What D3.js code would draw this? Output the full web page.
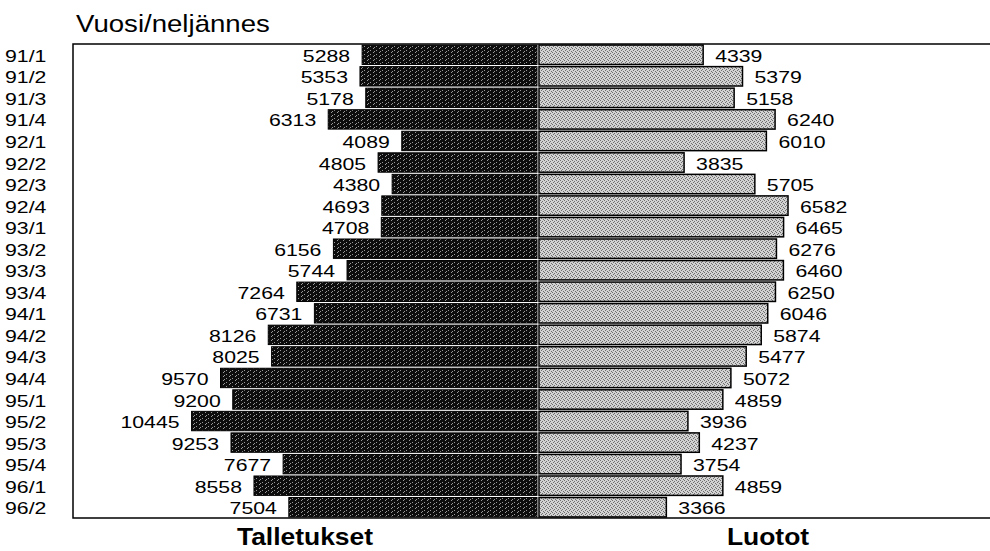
<!DOCTYPE html>
<html>
<head>
<meta charset="utf-8">
<script src="https://cdn.jsdelivr.net/npm/d3@7"></script>
<style>
  body { margin: 0; background: #fff; }
  text { font-family: "Liberation Sans", Arial, sans-serif; fill: #000; }
</style>
</head>
<body>
<div id="chart-area"></div>
<script>
// quarter labels and the two series (millions)
const quarters = ["91/1", "91/2", "91/3", "91/4", "92/1", "92/2", "92/3", "92/4",
    "93/1", "93/2", "93/3", "93/4", "94/1", "94/2", "94/3", "94/4",
    "95/1", "95/2", "95/3", "95/4", "96/1", "96/2"];
const talletukset = [5288, 5353, 5178, 6313, 4089, 4805, 4380, 4693,
    4708, 6156, 5744, 7264, 6731, 8126, 8025, 9570,
    9200, 10445, 9253, 7677, 8558, 7504];
const luotot = [4339, 5379, 5158, 6240, 6010, 3835, 5705, 6582,
    6465, 6276, 6460, 6250, 6046, 5874, 5477, 5072,
    4859, 3936, 4237, 3754, 4859, 3366];

const width = 990;
const height = 551;
const frameTop = 44, frameBottom = 518, frameLeft = 73, mid = 537;
const sx = 1.25; // scanned text is wide

const svg = d3.select("#chart-area").append("svg")
    .attr("width", width)
    .attr("height", height);

// dither-like fills
const defs = svg.append("defs");
const pd = defs.append("pattern").attr("id", "dark")
    .attr("width", 6).attr("height", 4).attr("patternUnits", "userSpaceOnUse");
pd.append("rect").attr("width", 6).attr("height", 4).attr("fill", "#0d0d0d");
[[1, 0], [4, 2], [2, 3]].forEach(p => pd.append("rect")
    .attr("x", p[0]).attr("y", p[1]).attr("width", 1).attr("height", 1).attr("fill", "#9a9a9a"));
const pl = defs.append("pattern").attr("id", "light")
    .attr("width", 4).attr("height", 4).attr("patternUnits", "userSpaceOnUse");
pl.append("rect").attr("width", 4).attr("height", 4).attr("fill", "#d2d2d2");
[[0, 0], [2, 1], [1, 2], [3, 3]].forEach(p => pl.append("rect")
    .attr("x", p[0]).attr("y", p[1]).attr("width", 1).attr("height", 1).attr("fill", "#6e6e6e"));

const y = d3.scaleBand()
    .domain(quarters)
    .range([frameTop, frameBottom])
    .paddingInner(0.1)
    .paddingOuter(0.05);

const xl = d3.scaleLinear().domain([0, 14000]).range([mid, frameLeft + 1]);
const xr = d3.scaleLinear().domain([0, 12000]).range([mid + 2, 993]);

// frame
svg.append("path")
    .attr("d", `M${width + 5},${frameTop}H${frameLeft}V${frameBottom}H${width + 5}`)
    .attr("fill", "none")
    .attr("stroke", "#000")
    .attr("stroke-width", 1.5);

svg.selectAll("rect.tal").data(talletukset).enter()
    .append("rect")
    .attr("class", "tal")
    .attr("x", d => xl(d))
    .attr("y", (d, i) => y(quarters[i]))
    .attr("width", d => mid - xl(d))
    .attr("height", y.bandwidth())
    .attr("fill", "url(#dark)")
    .attr("stroke", "#000")
    .attr("stroke-width", 1);

svg.selectAll("rect.luo").data(luotot).enter()
    .append("rect")
    .attr("class", "luo")
    .attr("x", xr(0))
    .attr("y", (d, i) => y(quarters[i]))
    .attr("width", d => xr(d) - xr(0))
    .attr("height", y.bandwidth())
    .attr("fill", "url(#light)")
    .attr("stroke", "#000")
    .attr("stroke-width", 1.5);

const cy = q => y(q) + y.bandwidth() / 2 + 7;

svg.selectAll("text.tv").data(talletukset).enter()
    .append("text")
    .attr("class", "tv")
    .attr("text-anchor", "end")
    .attr("font-size", 17)
    .attr("transform", (d, i) => `translate(${xl(d) - 12},${cy(quarters[i])}) scale(${sx},1)`)
    .text(d => d);

svg.selectAll("text.lv").data(luotot).enter()
    .append("text")
    .attr("class", "lv")
    .attr("font-size", 17)
    .attr("transform", (d, i) => `translate(${xr(d) + 12},${cy(quarters[i])}) scale(${sx},1)`)
    .text(d => d);

svg.selectAll("text.q").data(quarters).enter()
    .append("text")
    .attr("class", "q")
    .attr("font-size", 17)
    .attr("transform", d => `translate(5,${cy(d)}) scale(${sx},1)`)
    .text(d => d);

svg.append("text")
    .attr("font-size", 24)
    .attr("transform", `translate(76,32) scale(1.15,1)`)
    .text("Vuosi/neljännes");

svg.append("text")
    .attr("font-size", 23)
    .attr("font-weight", "bold")
    .attr("text-anchor", "middle")
    .attr("transform", `translate(305,545) scale(1.15,1)`)
    .text("Talletukset");

svg.append("text")
    .attr("font-size", 23)
    .attr("font-weight", "bold")
    .attr("text-anchor", "middle")
    .attr("transform", `translate(768,545) scale(1.15,1)`)
    .text("Luotot");
</script>
</body>
</html>
